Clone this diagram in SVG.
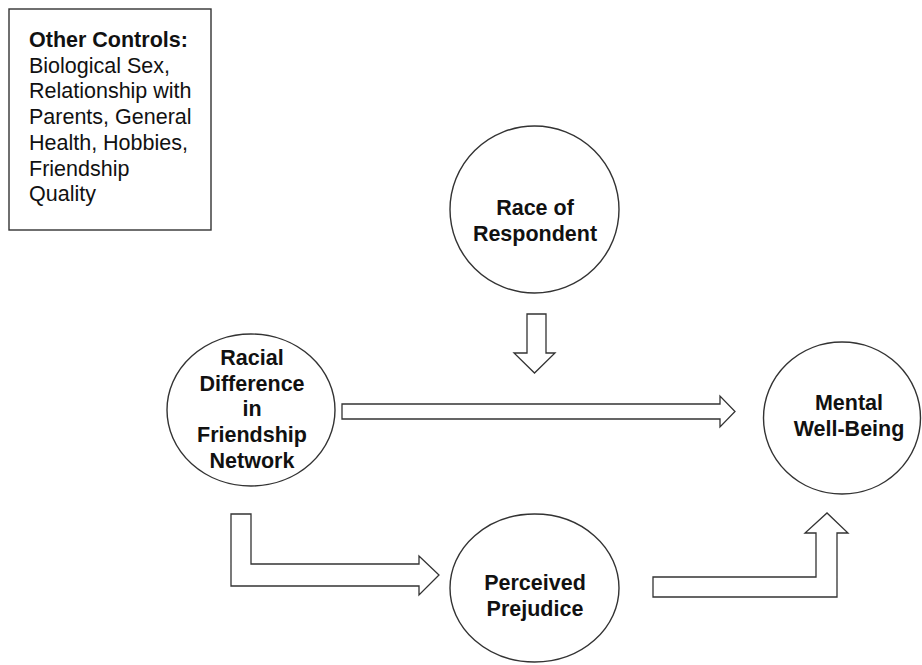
<svg xmlns="http://www.w3.org/2000/svg" width="922" height="665" viewBox="0 0 922 665">
<style>
.shape{fill:#fff;stroke:#333;stroke-width:1.4}
.arrow{fill:#fff;stroke:#333;stroke-width:1.3;stroke-linejoin:miter}
.lbl{font-family:"Liberation Sans",Arial,sans-serif;font-size:21.5px;font-weight:bold;fill:#111;text-anchor:middle}
.box{font-family:"Liberation Sans",Arial,sans-serif;font-size:21.5px;fill:#111}
</style>
<rect width="922" height="665" fill="#fff"/>
<g id="controls">
<rect class="shape" x="9" y="9" width="202" height="221"/>
<text class="box" x="29" y="47"><tspan font-weight="bold">Other Controls:</tspan><tspan x="29" dy="25.7">Biological Sex,</tspan><tspan x="29" dy="25.7">Relationship with</tspan><tspan x="29" dy="25.7">Parents, General</tspan><tspan x="29" dy="25.7">Health, Hobbies,</tspan><tspan x="29" dy="25.7">Friendship</tspan><tspan x="29" dy="25.7">Quality</tspan></text>
</g>
<g id="race">
<ellipse class="shape" cx="534.5" cy="209.5" rx="84.5" ry="83.5"/>
<text class="lbl" x="535" y="215">Race of<tspan x="535" dy="26">Respondent</tspan></text>
</g>
<g id="racial-difference">
<ellipse class="shape" cx="251" cy="410" rx="84" ry="76"/>
<text class="lbl" x="252" y="365">Racial<tspan x="252" dy="25.7">Difference</tspan><tspan x="252" dy="25.7">in</tspan><tspan x="252" dy="25.7">Friendship</tspan><tspan x="252" dy="25.7">Network</tspan></text>
</g>
<g id="mental">
<ellipse class="shape" cx="842" cy="418" rx="78.5" ry="76"/>
<text class="lbl" x="849" y="410">Mental<tspan x="849" dy="25.5">Well-Being</tspan></text>
</g>
<g id="prejudice">
<ellipse class="shape" cx="534.5" cy="588" rx="84.5" ry="74"/>
<text class="lbl" x="535" y="590">Perceived<tspan x="535" dy="26">Prejudice</tspan></text>
</g>
<g id="connectors">
<path class="arrow" d="M527,314 H546 V353 H555 L534.5,373 L514,353 H527 Z"/>
<path class="arrow" d="M342,404 H720 V396 L735,411.5 L720,427 V419 H342 Z"/>
<path class="arrow" d="M231,514 H251 V564 H419 V556 L439,575 L419,595 V586 H231 Z"/>
<path class="arrow" d="M653,577 H816 V533 H805 L827,513 L848,533 H837 V597 H653 Z"/>
</g>
</svg>
